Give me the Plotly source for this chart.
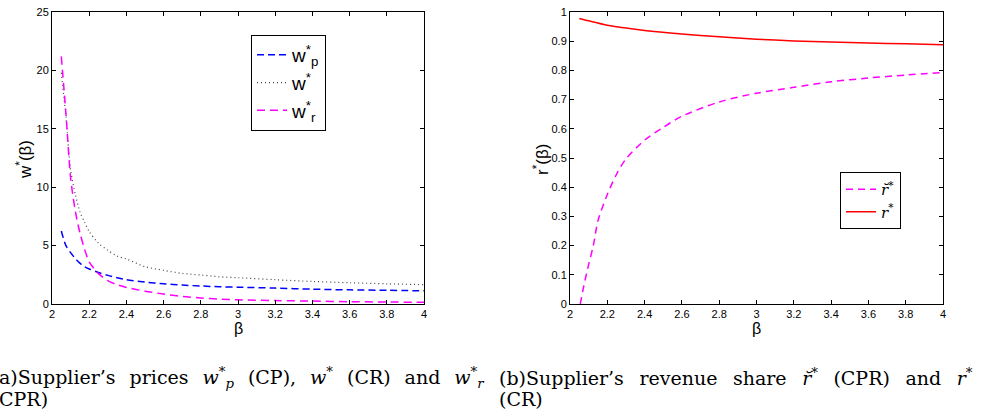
import plotly.graph_objects as go

# ---- Left panel data: supplier's prices vs beta ----
beta_left = [2.05, 2.075, 2.1, 2.125, 2.15, 2.175, 2.2, 2.25, 2.3, 2.35, 2.4, 2.5,
             2.6, 2.7, 2.8, 2.9, 3.0, 3.2, 3.4, 3.6, 3.8, 4.0]
w_p = [6.25, 5.0, 4.4, 3.9, 3.5, 3.2, 3.0, 2.7, 2.45, 2.25, 2.08, 1.88,
       1.73, 1.62, 1.54, 1.48, 1.44, 1.36, 1.27, 1.21, 1.17, 1.13]
w_star = [19.8, 16.0, 11.5, 9.4, 7.9, 7.0, 6.2, 5.2, 4.6, 4.1, 3.85, 3.2,
          2.88, 2.62, 2.48, 2.33, 2.25, 2.08, 1.93, 1.82, 1.73, 1.66]
w_r = [21.2, 16.3, 10.8, 8.0, 6.1, 4.7, 3.6, 2.6, 2.0, 1.65, 1.42, 1.1,
       0.85, 0.64, 0.52, 0.42, 0.36, 0.29, 0.25, 0.2, 0.17, 0.15]

# ---- Right panel data: supplier's revenue share vs beta ----
beta_rb = [2.055, 2.075, 2.1, 2.125, 2.15, 2.2, 2.25, 2.3, 2.4, 2.5, 2.6, 2.8,
           3.0, 3.2, 3.4, 3.6, 3.8, 4.0]
r_breve = [0.0, 0.065, 0.135, 0.2, 0.285, 0.375, 0.445, 0.497, 0.561, 0.605, 0.643, 0.692,
           0.722, 0.742, 0.761, 0.774, 0.784, 0.793]
beta_rs = [2.05, 2.1, 2.2, 2.3, 2.4, 2.6, 2.8, 3.0, 3.2, 3.4, 3.6, 3.8, 4.0]
r_star = [0.978, 0.970, 0.955, 0.945, 0.937, 0.925, 0.915, 0.907, 0.901, 0.897, 0.894, 0.891, 0.888]

x_ticks = [2, 2.2, 2.4, 2.6, 2.8, 3, 3.2, 3.4, 3.6, 3.8, 4]
x_tick_text = ["2", "2.2", "2.4", "2.6", "2.8", "3", "3.2", "3.4", "3.6", "3.8", "4"]
yl_ticks = [0, 5, 10, 15, 20, 25]
yr_ticks = [0, 0.1, 0.2, 0.3, 0.4, 0.5, 0.6, 0.7, 0.8, 0.9, 1]
yr_tick_text = ["0", "0.1", "0.2", "0.3", "0.4", "0.5", "0.6", "0.7", "0.8", "0.9", "1"]

SANS = "Liberation Sans, Arial, sans-serif"
SERIF = "DejaVu Serif, Liberation Serif, serif"

fig = go.Figure()

fig.add_trace(go.Scatter(x=beta_left, y=w_p, mode="lines", xaxis="x", yaxis="y",
                         line=dict(color="#0000ff", width=1.5, dash="7px,4px", shape="spline", smoothing=0.8),
                         name="w<sup>*</sup><sub>p</sub>", legend="legend"))
fig.add_trace(go.Scatter(x=beta_left, y=w_star, mode="lines", xaxis="x", yaxis="y",
                         line=dict(color="#444444", width=1.2, dash="1px,3px", shape="spline", smoothing=0.8),
                         name="w<sup>*</sup>", legend="legend"))
fig.add_trace(go.Scatter(x=beta_left, y=w_r, mode="lines", xaxis="x", yaxis="y",
                         line=dict(color="#ff00ff", width=1.5, dash="8px,5px", shape="spline", smoothing=0.8),
                         name="w<sup>*</sup><sub>r</sub>", legend="legend"))

fig.add_trace(go.Scatter(x=beta_rb, y=r_breve, mode="lines", xaxis="x2", yaxis="y2",
                         line=dict(color="#ff00ff", width=1.5, dash="7px,5px", shape="spline", smoothing=0.8),
                         name="<i>r̆</i><sup>*</sup>", legend="legend2"))
fig.add_trace(go.Scatter(x=beta_rs, y=r_star, mode="lines", xaxis="x2", yaxis="y2",
                         line=dict(color="#ff0000", width=1.5, shape="spline", smoothing=0.8),
                         name="<i>r</i><sup>*</sup>", legend="legend2"))

ydom = [111 / 415, 403 / 415]
axis_common = dict(showline=True, linecolor="black", linewidth=1, mirror="ticks",
                   ticks="inside", ticklen=4, tickcolor="black", showgrid=False, zeroline=False,
                   automargin=False,
                   tickfont=dict(family=SANS, size=11, color="black"))

fig.update_layout(
    width=998, height=415,
    margin=dict(l=0, r=0, t=0, b=0, autoexpand=False),
    paper_bgcolor="white", plot_bgcolor="white",
    xaxis=dict(domain=[52 / 998, 424 / 998], range=[2, 4], tickvals=x_ticks, ticktext=x_tick_text,
               anchor="y", **axis_common),
    yaxis=dict(domain=ydom, range=[0, 25], tickvals=yl_ticks, anchor="x", **axis_common),
    xaxis2=dict(domain=[570 / 998, 943 / 998], range=[2, 4], tickvals=x_ticks, ticktext=x_tick_text,
                anchor="y2", **axis_common),
    yaxis2=dict(domain=ydom, range=[0, 1], tickvals=yr_ticks, ticktext=yr_tick_text, anchor="x2",
                **axis_common),
    legend=dict(x=251 / 998, y=1 - 35 / 415, xanchor="left", yanchor="top",
                bgcolor="white", bordercolor="black", borderwidth=1,
                font=dict(family=SANS, size=19, color="black")),
    legend2=dict(x=840 / 998, y=1 - 172 / 415, xanchor="left", yanchor="top",
                 bgcolor="white", bordercolor="black", borderwidth=1,
                 font=dict(family=SERIF, size=15, color="black")),
)

S1 = "&nbsp;\u200a "        # widened word gap (justified caption line)
S2 = "\u2002&nbsp;"         # wider gap for the second caption
annotations = [
    dict(text="w<sup>*</sup>(β)", x=24 / 998, y=1 - 160 / 415, xref="paper", yref="paper",
         xanchor="center", yanchor="middle",
         textangle=-90, showarrow=False, font=dict(family=SANS, size=17, color="black")),
    dict(text="r<sup>*</sup>(β)", x=541 / 998, y=1 - 160 / 415, xref="paper", yref="paper",
         xanchor="center", yanchor="middle",
         textangle=-90, showarrow=False, font=dict(family=SANS, size=17, color="black")),
    dict(text="β", x=238 / 998, y=1 - 328 / 415, xref="paper", yref="paper",
         xanchor="center", yanchor="middle",
         showarrow=False, font=dict(family=SANS, size=16, color="black")),
    dict(text="β", x=756 / 998, y=1 - 328 / 415, xref="paper", yref="paper",
         xanchor="center", yanchor="middle",
         showarrow=False, font=dict(family=SANS, size=16, color="black")),
    dict(text=S1.join(["a)Supplier’s", "prices", "<i>w</i><sup>*</sup><sub><i>p</i></sub>", "(CP),",
                       "<i>w</i><sup>*</sup>", "(CR)", "and", "<i>w</i><sup>*</sup><sub><i>r</i></sub>"]),
         x=-3 / 998, y=1 - 377 / 415, xref="paper", yref="paper", xanchor="left", yanchor="middle",
         showarrow=False, font=dict(family=SERIF, size=19, color="black")),
    dict(text="CPR)", x=-3 / 998, y=1 - 399 / 415, xref="paper", yref="paper", xanchor="left", yanchor="middle",
         showarrow=False, font=dict(family=SERIF, size=19, color="black")),
    dict(text=S2.join(["(b)Supplier’s", "revenue", "share", "<i>r̆</i><sup>*</sup>", "(CPR)", "and",
                       "<i>r</i><sup>*</sup>"]),
         x=497 / 998, y=1 - 377 / 415, xref="paper", yref="paper", xanchor="left", yanchor="middle",
         showarrow=False, font=dict(family=SERIF, size=19, color="black")),
    dict(text="(CR)", x=497 / 998, y=1 - 399 / 415, xref="paper", yref="paper", xanchor="left", yanchor="middle",
         showarrow=False, font=dict(family=SERIF, size=19, color="black")),
]
fig.update_layout(annotations=annotations)

fig.write_html("out.html", config={"displayModeBar": False},
               post_script="document.body.style.margin='0';document.body.style.overflow='hidden';")
